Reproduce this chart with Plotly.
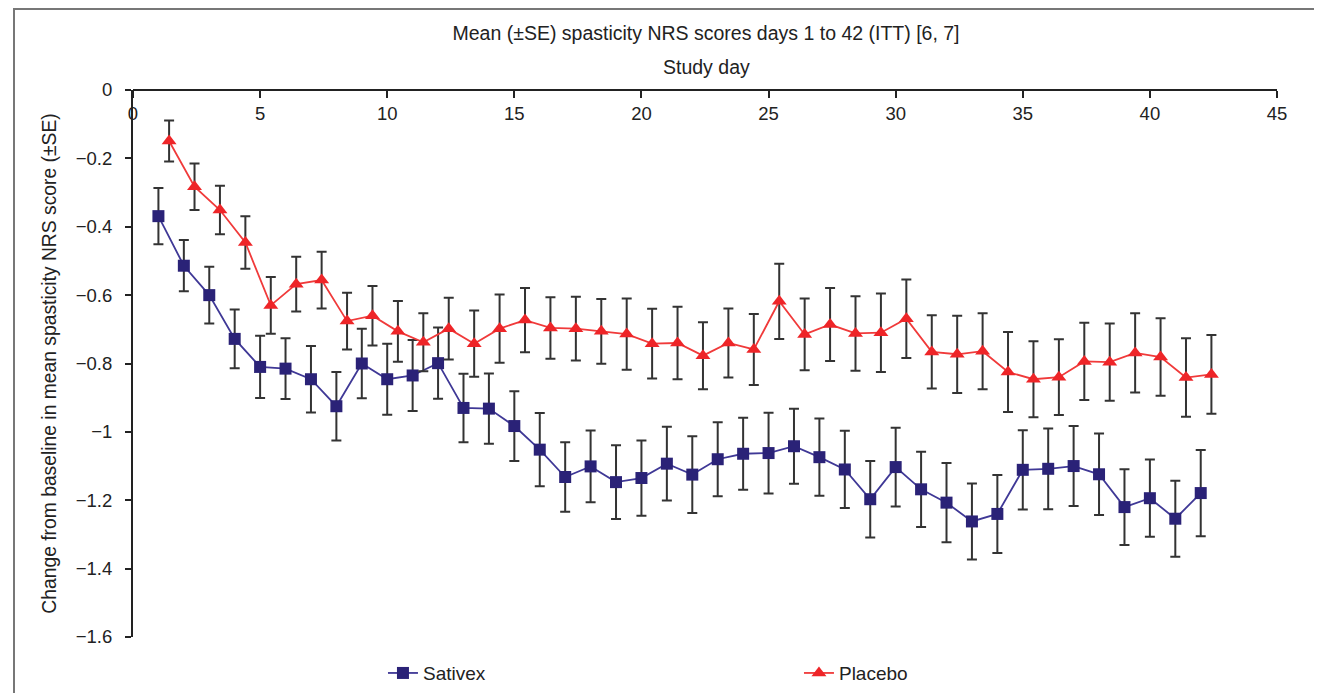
import plotly.graph_objects as go

days = list(range(1, 43))

sativex_mean = [-0.369, -0.514, -0.600, -0.728, -0.810, -0.815, -0.846, -0.925, -0.800, -0.846,
                -0.835, -0.799, -0.930, -0.932, -0.983, -1.052, -1.132, -1.101, -1.147, -1.135,
                -1.093, -1.125, -1.080, -1.064, -1.062, -1.042, -1.074, -1.110, -1.197, -1.103,
                -1.168, -1.207, -1.262, -1.240, -1.111, -1.108, -1.100, -1.124, -1.220, -1.194,
                -1.254, -1.179]
sativex_se = [0.082, 0.075, 0.083, 0.086, 0.091, 0.089, 0.097, 0.100, 0.102, 0.104,
              0.104, 0.104, 0.100, 0.103, 0.102, 0.107, 0.102, 0.105, 0.108, 0.110,
              0.108, 0.112, 0.108, 0.105, 0.118, 0.110, 0.113, 0.113, 0.112, 0.115,
              0.110, 0.116, 0.111, 0.114, 0.116, 0.118, 0.117, 0.119, 0.111, 0.113,
              0.111, 0.126]

placebo_mean = [-0.149, -0.283, -0.351, -0.446, -0.630, -0.568, -0.556, -0.676, -0.660, -0.706,
                -0.738, -0.698, -0.742, -0.698, -0.673, -0.696, -0.698, -0.706, -0.714, -0.742,
                -0.740, -0.777, -0.740, -0.759, -0.618, -0.715, -0.686, -0.712, -0.710, -0.669,
                -0.766, -0.773, -0.764, -0.825, -0.846, -0.840, -0.794, -0.796, -0.769, -0.781,
                -0.841, -0.832]
placebo_se = [0.060, 0.068, 0.071, 0.077, 0.083, 0.080, 0.083, 0.083, 0.087, 0.089,
              0.085, 0.090, 0.097, 0.100, 0.094, 0.090, 0.093, 0.095, 0.104, 0.102,
              0.106, 0.098, 0.101, 0.104, 0.110, 0.105, 0.107, 0.109, 0.115, 0.115,
              0.107, 0.113, 0.111, 0.117, 0.111, 0.111, 0.113, 0.113, 0.116, 0.113,
              0.115, 0.115]

x_ticks = [0, 5, 10, 15, 20, 25, 30, 35, 40, 45]
y_ticks = [0, -0.2, -0.4, -0.6, -0.8, -1, -1.2, -1.4, -1.6]

# placebo points are drawn slightly dodged to the right of each study day
placebo_dodge = 0.42
placebo_x = [d + placebo_dodge for d in days]

FONT = "Liberation Sans, Arial, sans-serif"
err_style = dict(type="data", visible=True, color="#333333", thickness=2, width=5)

# figure sits at an 8px body offset inside the page
W, H = 1314, 685
L, T, R, B = 125, 82, 45, 56
PW, PH = W - L - R, H - T - B

fig = go.Figure()
fig.add_trace(go.Scatter(
    x=days, y=sativex_mean, name="Sativex", mode="lines+markers",
    line=dict(color="#3f3896", width=1.8),
    marker=dict(symbol="square", size=12, color="#2a2277"),
    error_y=dict(array=sativex_se, **err_style),
))
fig.add_trace(go.Scatter(
    x=placebo_x, y=placebo_mean, name="Placebo", mode="lines+markers",
    line=dict(color="#f03a3a", width=1.8),
    marker=dict(symbol="triangle-up", size=13, color="#ee2528"),
    error_y=dict(array=placebo_se, **err_style),
))

fig.update_layout(
    width=W, height=H,
    margin=dict(l=L, r=R, t=T, b=B, autoexpand=False),
    paper_bgcolor="white", plot_bgcolor="white",
    font=dict(family=FONT, size=18, color="#222222"),
    title=dict(text="Mean (±SE) spasticity NRS scores days 1 to 42 (ITT) [6, 7]",
               x=(706 - 8) / W, xanchor="center", y=1 - (33 - 8) / H, yanchor="middle",
               font=dict(size=19.5, color="#222222")),
    showlegend=True,
    legend=dict(orientation="h", x=0.2185, xanchor="left", y=-0.066, yanchor="middle",
                entrywidth=371, entrywidthmode="pixels",
                font=dict(size=19), bgcolor="rgba(0,0,0,0)"),
    xaxis=dict(
        range=[0, 45], side="bottom", anchor="free", position=1,
        tickvals=x_ticks, ticktext=[str(t) for t in x_ticks],
        showgrid=False, zeroline=False, showline=True, linecolor="#222222", linewidth=2,
        ticks="outside", ticklen=7, tickwidth=2, tickcolor="#222222",
        tickfont=dict(size=18.5), automargin=False,
    ),
    yaxis=dict(
        range=[-1.6, 0], tickvals=y_ticks, showgrid=False, zeroline=False,
        showline=True, linecolor="#222222", linewidth=2,
        ticks="outside", ticklen=6, tickwidth=2, tickcolor="#222222",
        tickfont=dict(size=18.5), ticklabelstandoff=9, automargin=False,
        title=dict(text="Change from baseline in mean spasticity NRS score (±SE)",
                   font=dict(size=19.3), standoff=14),
    ),
    annotations=[dict(text="Study day", xref="paper", yref="paper",
                      x=(706 - 8 - L) / PW, y=1 + (90 - 67) / PH,
                      xanchor="center", yanchor="middle",
                      showarrow=False, font=dict(size=19.5, color="#222222"))],
    shapes=[dict(type="rect", xref="paper", yref="paper",
                 x0=(6 - L) / PW, x1=(1309 - L) / PW,
                 y0=-(B + 20) / PH, y1=(PH + T - 1) / PH,
                 line=dict(color="#777777", width=2), layer="below")],
)

fig.write_html("out.html")
